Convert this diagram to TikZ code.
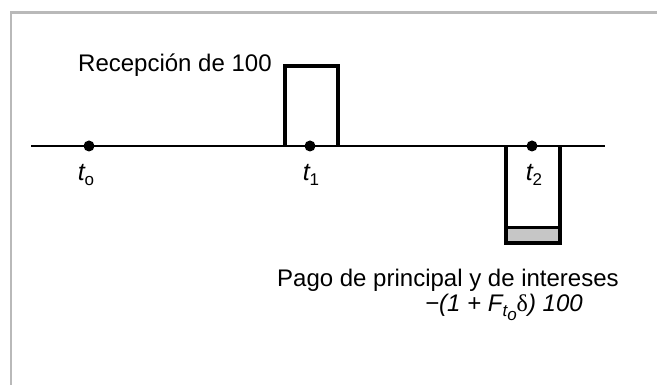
\documentclass[tikz,border=0pt]{standalone}
\usepackage{fontspec}
\setmainfont{Liberation Sans}
\newfontfamily\greekfont{Liberation Serif}
\usepackage{tikz}
\usetikzlibrary{positioning}
\newcommand{\lowsub}[1]{\raisebox{-4.5pt}{\fontsize{17}{17}\selectfont #1}}

\begin{document}
\begin{tikzpicture}[
        x=1pt, y=1pt,
        axis/.style={line width=1.5pt},
        pulse/.style={line width=3.3pt, line join=miter},
        tick/.style={circle, fill=black, inner sep=0pt, minimum size=11pt},
        lbl/.style={inner sep=0pt, font=\fontsize{24}{28}\selectfont},
        tlbl/.style={inner sep=0pt, font=\fontsize{25}{28}\selectfont}
    ]
    \useasboundingbox (0,0) rectangle (657,385);
    \draw[gray!55, line width=2.3pt] (11,0) -- (11,372.5) -- (657,372.5);

    \coordinate (A) at (31,239);
    \coordinate (B) at (605,239);
    \draw[axis] (A) -- (B);

    \node[tick] (T0) at (89,239) {};
    \node[tick] (T1) at (310,239) {};
    \node[tick] (T2) at (532,239) {};

    % cobro en t1
    \coordinate (R1) at (285,239);
    \coordinate (R2) at (285,319);
    \coordinate (R3) at (338,319);
    \coordinate (R4) at (338,239);
    \draw[pulse] (R1) -- (R2) -- (R3) -- (R4);

    % pago en t2
    \coordinate (P1) at (506,239);
    \coordinate (P2) at (506,142);
    \coordinate (P3) at (560,142);
    \coordinate (P4) at (560,239);
    \fill[gray!45] (P2) rectangle (560,157);
    \draw[line width=3pt] (506,157) -- (560,157);
    \draw[pulse] (P1) -- (P2) -- (P3) -- (P4);

    \node[tlbl, anchor=base] (L0) at (86,204) {\itshape t\lowsub{\upshape o}};
    \node[tlbl, anchor=base] (L1) at (311,204) {\itshape t\lowsub{\upshape 1}};
    \node[tlbl, anchor=base] (L2) at (534,204) {\itshape t\lowsub{\upshape 2}};

    \node[lbl, anchor=base west] (rec) at (78,313) {Recepción de 100};
    \node[lbl, anchor=base west] (pago) at (277,98) {Pago de principal y de intereses};
    \node[lbl, anchor=base west] (monto) at (425,73)
        {\itshape −(1 + F\lowsub{t\lowsub{o}}{\upshape\greekfont δ}) 100};
\end{tikzpicture}
\end{document}
